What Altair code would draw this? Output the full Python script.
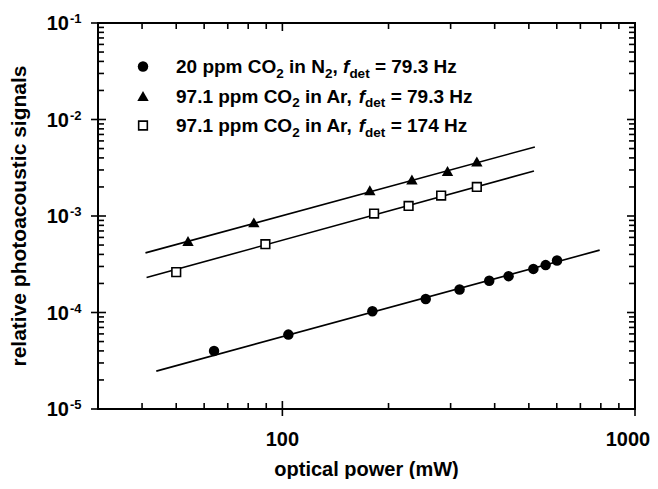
import altair as alt
import pandas as pd

# ---------------- data ----------------
circ_x = [64, 104, 180, 255, 318, 386, 438, 515, 558, 601]
circ_y = [4.0e-5, 5.9e-5, 1.03e-4, 1.38e-4, 1.73e-4, 2.13e-4, 2.38e-4, 2.83e-4, 3.10e-4, 3.46e-4]

tri_x = [54, 83, 177, 233, 294, 356]
tri_y = [5.5e-4, 8.6e-4, 1.85e-3, 2.39e-3, 2.93e-3, 3.67e-3]

sq_x = [50, 89.5, 182, 228, 282, 356]
sq_y = [2.62e-4, 5.1e-4, 1.06e-3, 1.27e-3, 1.63e-3, 2.0e-3]

# fitted lines (end points)
fit_circ_x = [43.9, 794]
fit_circ_y = [2.47e-5, 4.43e-4]
fit_tri_x = [40.9, 520]
fit_tri_y = [4.15e-4, 5.19e-3]
fit_sq_x = [41.2, 517]
fit_sq_y = [2.30e-4, 2.93e-3]

x_major = [100, 1000]
x_labels = ["100", "1000"]
x_minor = [40, 50, 60, 70, 80, 90, 200, 300, 400, 500, 600, 700, 800, 900]
y_major = [1e-5, 1e-4, 1e-3, 1e-2, 1e-1]
y_exp = ["-5", "-4", "-3", "-2", "-1"]
y_minor = [k * 10.0 ** e for e in range(-5, -1) for k in range(2, 10)]

legend_rows = [
    [("20 ppm CO", "n"), ("2", "s"), (" in N", "n"), ("2", "s"), (", ", "n"),
     ("f", "i"), ("det", "s"), (" = 79.3 Hz", "n")],
    [("97.1 ppm CO", "n"), ("2", "s"), (" in Ar, ", "n"),
     ("f", "i"), ("det", "s"), (" = 79.3 Hz", "n")],
    [("97.1 ppm CO", "n"), ("2", "s"), (" in Ar, ", "n"),
     ("f", "i"), ("det", "s"), (" = 174 Hz", "n")],
]
legend_shapes = ["circle", "triangle-up", "square"]

# ---------------- layout ----------------
W, H = 537, 386
FONT = "Liberation Sans"
xs = alt.Scale(type="log", domain=[30, 1000], nice=False)
ys = alt.Scale(type="log", domain=[1e-5, 1e-1], nice=False)

def XQ(f="x"):
    return alt.X(f + ":Q", scale=xs, axis=None)

def YQ(f="y"):
    return alt.Y(f + ":Q", scale=ys, axis=None)

layers = []

# fit lines
lines_df = pd.concat([
    pd.DataFrame({"x": fit_circ_x, "y": fit_circ_y, "s": "c"}),
    pd.DataFrame({"x": fit_tri_x, "y": fit_tri_y, "s": "t"}),
    pd.DataFrame({"x": fit_sq_x, "y": fit_sq_y, "s": "q"}),
])
layers.append(alt.Chart(lines_df).mark_line(color="black", strokeWidth=1.6).encode(
    x=XQ(), y=YQ(), detail="s:N"))

SIZES = {"circle": 110, "triangle-up": 130, "square": 75}

# points
layers.append(alt.Chart(pd.DataFrame({"x": circ_x, "y": circ_y})).mark_point(
    shape="circle", filled=True, color="black", size=SIZES["circle"], opacity=1).encode(x=XQ(), y=YQ()))
layers.append(alt.Chart(pd.DataFrame({"x": tri_x, "y": tri_y})).mark_point(
    shape="triangle-up", filled=True, color="black", size=SIZES["triangle-up"], opacity=1).encode(x=XQ(), y=YQ()))
layers.append(alt.Chart(pd.DataFrame({"x": sq_x, "y": sq_y})).mark_point(
    shape="square", filled=True, fill="white", stroke="black", strokeWidth=1.6,
    size=SIZES["square"], opacity=1).encode(x=XQ(), y=YQ()))

# ticks
xmin_df = pd.DataFrame({"x": x_minor})
xmaj_df = pd.DataFrame({"x": x_major})
ymin_df = pd.DataFrame({"y": y_minor})
ymaj_df = pd.DataFrame({"y": y_major})
tk = dict(color="black", strokeWidth=1.6)
layers += [
    alt.Chart(xmin_df).mark_rule(**tk).encode(x=XQ(), y=alt.value(H), y2=alt.value(H - 6)),
    alt.Chart(xmin_df).mark_rule(**tk).encode(x=XQ(), y=alt.value(0), y2=alt.value(6)),
    alt.Chart(xmaj_df).mark_rule(**tk).encode(x=XQ(), y=alt.value(H + 7), y2=alt.value(H - 8)),
    alt.Chart(xmaj_df).mark_rule(**tk).encode(x=XQ(), y=alt.value(0), y2=alt.value(8)),
    alt.Chart(ymin_df).mark_rule(**tk).encode(y=YQ(), x=alt.value(0), x2=alt.value(6)),
    alt.Chart(ymin_df).mark_rule(**tk).encode(y=YQ(), x=alt.value(W), x2=alt.value(W - 6)),
    alt.Chart(ymaj_df).mark_rule(**tk).encode(y=YQ(), x=alt.value(-7), x2=alt.value(8)),
    alt.Chart(ymaj_df).mark_rule(**tk).encode(y=YQ(), x=alt.value(W), x2=alt.value(W - 8)),
]

# tick labels
ylab_df = pd.DataFrame({"y": y_major, "e": y_exp, "t": ["10"] * len(y_major)})
layers.append(alt.Chart(ylab_df).mark_text(
    font=FONT, fontWeight="bold", fontSize=20, align="right", baseline="alphabetic", dy=7,
    color="black").encode(y=YQ(), x=alt.value(-29), text="t:N"))
layers.append(alt.Chart(ylab_df).mark_text(
    font=FONT, fontWeight="bold", fontSize=13, align="left", baseline="alphabetic", dy=0,
    color="black").encode(y=YQ(), x=alt.value(-28), text="e:N"))
xlab_df = pd.DataFrame({"x": x_major, "t": x_labels})
layers.append(alt.Chart(xlab_df).transform_filter("datum.x < 500").mark_text(
    font=FONT, fontWeight="bold", fontSize=20, align="center", baseline="alphabetic",
    color="black").encode(x=XQ(), y=alt.value(H + 37), text="t:N"))
layers.append(alt.Chart(xlab_df).transform_filter("datum.x > 500").mark_text(
    font=FONT, fontWeight="bold", fontSize=20, align="center", baseline="alphabetic",
    dx=-7, color="black").encode(x=XQ(), y=alt.value(H + 37), text="t:N"))

one = pd.DataFrame({"a": [0]})
# axis titles
layers.append(alt.Chart(one).mark_text(
    font=FONT, fontWeight="bold", fontSize=20, align="center", baseline="alphabetic",
    color="black", text="optical power (mW)").encode(x=alt.value(W / 2), y=alt.value(H + 67)))
layers.append(alt.Chart(one).mark_text(
    font=FONT, fontWeight="bold", fontSize=21, align="center", baseline="middle", angle=270,
    color="black", text="relative photoacoustic signals").encode(x=alt.value(-78), y=alt.value(H / 2)))

# legend (manual, for sub-scripts and italics)
CW = {"0": 556, "1": 556, "2": 556, "3": 556, "4": 556, "5": 556, "6": 556, "7": 556,
      "8": 556, "9": 556, " ": 278, ".": 278, ",": 278, "=": 584, "p": 611, "m": 889,
      "i": 278, "n": 611, "r": 389, "z": 500, "d": 611, "e": 556, "t": 333, "f": 333,
      "C": 722, "O": 778, "N": 722, "A": 722, "H": 722}
FS, SS = 19, 13.5
row_y = [43.5, 73, 102.5]
sym_x, txt_x = 45, 78
for r, segs in enumerate(legend_rows):
    shp = legend_shapes[r]
    layers.append(alt.Chart(one).mark_point(
        shape=shp, filled=True, opacity=1,
        fill="white" if shp == "square" else "black",
        stroke="black", strokeWidth=1.6 if shp == "square" else 0,
        size=SIZES[shp]).encode(x=alt.value(sym_x), y=alt.value(row_y[r])))
    cx = txt_x
    for text, st in segs:
        size = SS if st == "s" else FS
        lead = len(text) - len(text.lstrip(" "))
        sx = cx + lead * CW[" "] / 1000 * size
        layers.append(alt.Chart(one).mark_text(
            font=FONT, fontWeight="bold", fontStyle="italic" if st == "i" else "normal",
            fontSize=size, align="left", baseline="alphabetic", color="black",
            text=text.strip(" ")).encode(
            x=alt.value(sx), y=alt.value(row_y[r] + (11 if st == "s" else 6.5))))
        cx += sum(CW[c] for c in text) / 1000 * size

chart = alt.layer(*layers).properties(
    width=W, height=H,
    autosize=alt.AutoSizeParams(type="none"),
    padding={"left": 90, "top": 15, "right": 15, "bottom": 70},
).configure_view(stroke="black", strokeWidth=2)

chart.save("out.html", embed_options={"renderer": "svg", "actions": False})
